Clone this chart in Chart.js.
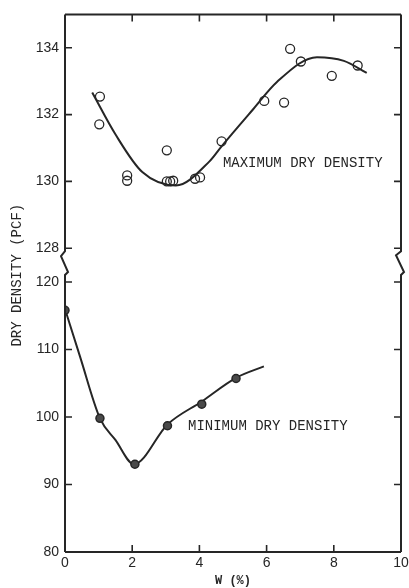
<!DOCTYPE html>
<html>
<head>
<meta charset="utf-8">
<script src="https://cdn.jsdelivr.net/npm/chart.js@4.4.1/dist/chart.umd.min.js"></script>
<style>
  html, body { margin: 0; padding: 0; background: #fff; }
</style>
</head>
<body>
<canvas id="chart" width="409" height="588"></canvas>
<script>
// valores
const maxW       = [1.04, 1.02, 1.85, 1.85, 3.03, 3.03, 3.13, 3.22, 3.87, 4.02, 4.66, 5.93, 6.52, 6.70, 7.02, 7.94, 8.71];
const maxDensity = [132.54, 131.71, 130.18, 130.02, 130.93, 130.0, 130.0, 130.02, 130.08, 130.12, 131.2, 132.41, 132.36, 133.97, 133.59, 133.16, 133.47];

const maxCurveW       = [0.81, 1.5, 2.3, 3.3, 4.3, 4.66, 5.6, 6.3, 7.5, 8.3, 8.98];
const maxCurveDensity = [132.66, 131.41, 130.28, 129.88, 130.6, 131.05, 132.16, 132.97, 133.72, 133.61, 133.25];

const minW       = [0, 1.04, 2.08, 3.05, 4.07, 5.09];
const minDensity = [115.8, 99.8, 93.0, 98.7, 101.9, 105.7];

const minCurveW       = [0, 0.45, 1.04, 1.5, 2.05, 3.05, 4.07, 5.09, 5.92];
const minCurveDensity = [116, 108.9, 99.8, 96.6, 93.0, 98.9, 102.3, 105.8, 107.5];

const xTicks      = [0, 2, 4, 6, 8, 10];
const yTopTicks   = [128, 130, 132, 134];
const yBotTicks   = [80, 90, 100, 110, 120];

const maxLabel = { text: 'MAXIMUM DRY DENSITY', w: 4.7, d: 130.53 };
const minLabel = { text: 'MINIMUM DRY DENSITY', w: 3.66, d: 98.67 };

const INK = '#262626';
const monoFont = '"Liberation Mono", "DejaVu Sans Mono", monospace';
const tickFont = { family: '"Liberation Sans", Arial, sans-serif', size: 14 };

function pts(xs, ys) {
  return xs.map((x, i) => ({ x: x, y: ys[i] }));
}

// moldura com quebra de eixo + ticks para dentro + textos
const framePlugin = {
  id: 'frame',
  afterDraw(chart) {
    const { ctx, chartArea: a, scales } = chart;
    const yT = scales.yTop, yB = scales.yBot, x = scales.x;
    const b1 = yT.bottom + 3;
    const b2 = yB.getPixelForValue(120) - 7;

    ctx.save();
    ctx.strokeStyle = INK;
    ctx.lineWidth = 2;
    ctx.lineJoin = 'miter';

    // topo e base
    ctx.beginPath();
    ctx.moveTo(a.left, a.top); ctx.lineTo(a.right, a.top);
    ctx.moveTo(a.left, a.bottom); ctx.lineTo(a.right, a.bottom);
    ctx.stroke();

    // eixo esquerdo com zigue-zague
    ctx.beginPath();
    ctx.moveTo(a.left, a.top);
    ctx.lineTo(a.left, b1);
    ctx.lineTo(a.left - 4, b1 + 5);
    ctx.lineTo(a.left + 3, b2 - 3);
    ctx.lineTo(a.left, b2);
    ctx.lineTo(a.left, a.bottom);
    ctx.stroke();

    // borda direita com zigue-zague
    ctx.beginPath();
    ctx.moveTo(a.right, a.top);
    ctx.lineTo(a.right, b1);
    ctx.lineTo(a.right - 5, b1 + 4);
    ctx.lineTo(a.right + 3, b2 - 3);
    ctx.lineTo(a.right, b2);
    ctx.lineTo(a.right, a.bottom);
    ctx.stroke();

    // ticks para dentro
    const tl = 7;
    ctx.lineWidth = 1.6;
    ctx.beginPath();
    yTopTicks.forEach(v => {
      const py = yT.getPixelForValue(v);
      ctx.moveTo(a.left - 1, py); ctx.lineTo(a.left + tl, py);
      ctx.moveTo(a.right - tl, py); ctx.lineTo(a.right, py);
    });
    yBotTicks.forEach(v => {
      if (v === 80) return;
      const py = yB.getPixelForValue(v);
      ctx.moveTo(a.left - 1, py); ctx.lineTo(a.left + tl, py);
      ctx.moveTo(a.right - tl, py); ctx.lineTo(a.right, py);
    });
    xTicks.forEach(v => {
      if (v === 0 || v === 10) return;
      const px = x.getPixelForValue(v);
      ctx.moveTo(px, a.bottom); ctx.lineTo(px, a.bottom - tl);
      ctx.moveTo(px, a.top); ctx.lineTo(px, a.top + tl);
    });
    ctx.stroke();

    // rótulos das curvas
    ctx.fillStyle = INK;
    ctx.font = '14px ' + monoFont;
    ctx.textAlign = 'left';
    ctx.textBaseline = 'middle';
    ctx.fillText(maxLabel.text, x.getPixelForValue(maxLabel.w), yT.getPixelForValue(maxLabel.d));
    ctx.fillText(minLabel.text, x.getPixelForValue(minLabel.w), yB.getPixelForValue(minLabel.d));

    // título do eixo y
    ctx.translate(17, (a.top + a.bottom) / 2 - 8);
    ctx.rotate(-Math.PI / 2);
    ctx.textAlign = 'center';
    ctx.fillText('DRY DENSITY (PCF)', 0, 0);
    ctx.restore();
  }
};

const keepTicks = list => scale => {
  scale.ticks = scale.ticks.filter(t => list.includes(t.value));
};

new Chart(document.getElementById('chart'), {
  type: 'scatter',
  data: {
    datasets: [
      {
        label: 'max pts', data: pts(maxW, maxDensity), yAxisID: 'yTop',
        pointStyle: 'circle', pointRadius: 4.5, borderWidth: 1.3,
        borderColor: INK, backgroundColor: 'rgba(0,0,0,0)'
      },
      {
        label: 'min pts', data: pts(minW, minDensity), yAxisID: 'yBot',
        pointStyle: 'circle', pointRadius: 4, borderWidth: 1.5,
        borderColor: INK, backgroundColor: '#4a4a4a'
      },
      {
        label: 'max curve', data: pts(maxCurveW, maxCurveDensity), yAxisID: 'yTop',
        showLine: true, pointRadius: 0, borderColor: INK, borderWidth: 2,
        cubicInterpolationMode: 'monotone'
      },
      {
        label: 'min curve', data: pts(minCurveW, minCurveDensity), yAxisID: 'yBot',
        showLine: true, pointRadius: 0, borderColor: INK, borderWidth: 2,
        cubicInterpolationMode: 'monotone'
      }
    ]
  },
  options: {
    responsive: false,
    animation: false,
    devicePixelRatio: 1,
    layout: { padding: { top: 14, right: 8, left: 0, bottom: 0 } },
    plugins: { legend: { display: false }, tooltip: { enabled: false } },
    scales: {
      x: {
        type: 'linear', min: 0, max: 10,
        grid: { display: false, drawTicks: false }, border: { display: false },
        ticks: { stepSize: 2, padding: 3, color: INK, font: tickFont, maxRotation: 0 },
        afterBuildTicks: keepTicks(xTicks),
        title: { display: true, text: 'W (%)', color: INK, font: { family: monoFont, size: 12, weight: 'bold' }, padding: 0 },
        afterFit: s => { s.height = 36; s.paddingLeft = 0; s.paddingRight = 0; }
      },
      yBot: {
        type: 'linear', position: 'left', stack: 'dens', stackWeight: 304,
        min: 80, max: 125,
        grid: { display: false, drawTicks: false }, border: { display: false },
        ticks: { stepSize: 10, padding: 6, color: INK, font: tickFont },
        afterBuildTicks: keepTicks(yBotTicks),
        afterFit: s => { s.width = 65; }
      },
      yTop: {
        type: 'linear', position: 'left', stack: 'dens', stackWeight: 234,
        min: 128, max: 135,
        grid: { display: false, drawTicks: false }, border: { display: false },
        ticks: { stepSize: 2, padding: 6, color: INK, font: tickFont },
        afterBuildTicks: keepTicks(yTopTicks),
        afterFit: s => { s.width = 65; s.paddingTop = 0; }
      }
    }
  },
  plugins: [framePlugin]
});
</script>
</body>
</html>
